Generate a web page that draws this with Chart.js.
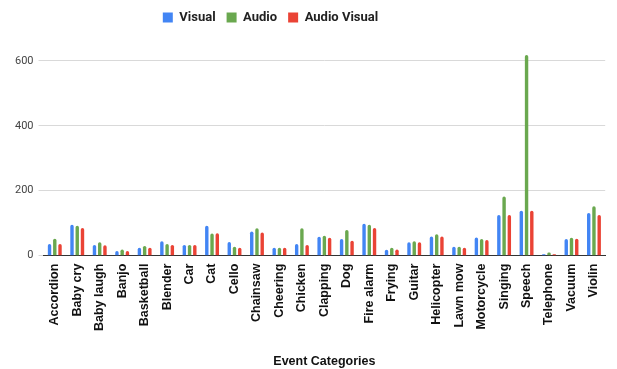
<!DOCTYPE html>
<html>
<head>
<meta charset="utf-8">
<script src="https://cdn.jsdelivr.net/npm/chart.js@4"></script>
<style>
  html, body { margin: 0; padding: 0; background: #fff; }
  #wrap { width: 617px; height: 369px; }
</style>
</head>
<body>
<div id="wrap"><canvas id="eventsChart"></canvas></div>
<script>
let categories = ["Accordion", "Baby cry", "Baby laugh", "Banjo", "Basketball", "Blender", "Car", "Cat", "Cello", "Chainsaw", "Cheering", "Chicken", "Clapping", "Dog", "Fire alarm", "Frying", "Guitar", "Helicopter", "Lawn mow", "Motorcycle", "Singing", "Speech", "Telephone", "Vacuum", "Violin"]
let visualValues = [36, 95, 33, 14, 24, 44, 33, 92, 42, 74, 24, 36, 58, 51, 98, 18, 41, 59, 27, 56, 125, 138, 4, 51, 131]
let audioValues = [52, 92, 41, 19, 30, 36, 33, 68, 27, 84, 24, 84, 61, 79, 95, 24, 44, 66, 27, 51, 182, 618, 10, 55, 152]
let audioVisualValues = [36, 85, 32, 14, 24, 33, 33, 69, 24, 71, 24, 33, 55, 46, 85, 19, 41, 59, 24, 48, 125, 138, 4, 52, 125]
let yTicks = [0, 200, 400, 600]

let barColors = ["#4285F4", "#6AA84F", "#EA4335"]

function makeSet(label, data, color) {
    return {
        label: label,
        data: data,
        backgroundColor: color,
        borderRadius: { topLeft: 2, topRight: 2 },
        borderSkipped: "bottom",
        categoryPercentage: 0.7,
        barPercentage: 0.65
    }
}

// sheets puts the legend a bit left of centre
const legendShift = {
    id: "legendShift",
    afterLayout(chart) {
        chart.legend.left -= 42
        chart.legend.right -= 42
    }
}

new Chart("eventsChart", {
    type: "bar",
    data: {
        labels: categories,
        datasets: [
            makeSet("Visual", visualValues, barColors[0]),
            makeSet("Audio", audioValues, barColors[1]),
            makeSet("Audio Visual", audioVisualValues, barColors[2])
        ]
    },
    plugins: [legendShift],
    options: {
        responsive: true,
        maintainAspectRatio: false,
        animation: false,
        layout: { padding: { left: 10, right: 2, top: 0, bottom: 0 } },
        plugins: {
            legend: {
                position: "top",
                labels: {
                    boxWidth: 10,
                    boxHeight: 10,
                    padding: 11,
                    color: "#222",
                    font: { family: "Roboto", size: 13, weight: "bold" }
                }
            },
            tooltip: { enabled: false }
        },
        scales: {
            x: {
                grid: { display: false, drawTicks: false },
                border: { display: true, color: "#333", width: 1 },
                ticks: {
                    autoSkip: false,
                    maxRotation: 90,
                    minRotation: 90,
                    color: "#111",
                    padding: 8,
                    font: { family: "Liberation Sans", size: 12.5, weight: "bold" }
                },
                title: {
                    display: true,
                    text: "Event Categories",
                    color: "#111",
                    padding: { top: 15, bottom: 0 },
                    font: { family: "Liberation Sans", size: 12.5, weight: "bold" }
                }
            },
            y: {
                min: 0,
                max: 683,
                afterBuildTicks: function (axis) {
                    axis.ticks = yTicks.map(function (v) { return { value: v } })
                },
                grid: { color: "#d9d9d9", drawTicks: true, tickLength: 5 },
                border: { display: false },
                ticks: {
                    color: "#444",
                    padding: 5,
                    font: { family: "Roboto", size: 11 }
                }
            }
        }
    }
})
</script>
</body>
</html>
